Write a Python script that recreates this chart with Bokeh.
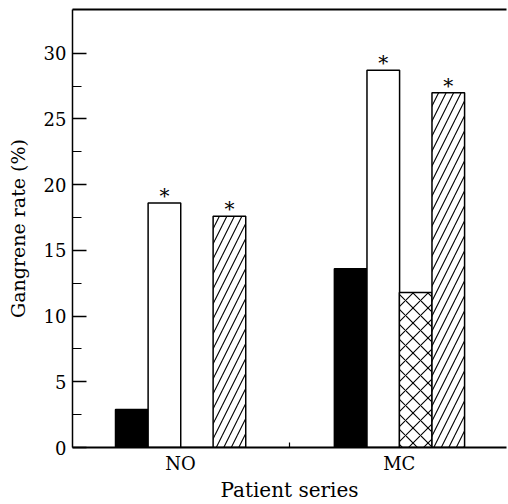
from bokeh.plotting import figure
from bokeh.models import ColumnDataSource, Range1d, FixedTicker, LinearAxis
from bokeh.transform import dodge
from bokeh.core.properties import value
from bokeh.embed import file_html
from bokeh.resources import INLINE

# ---- data ----
groups = ["NO", "MC"]
group_pos = [1, 2]
black_vals = [2.9, 13.6]
white_vals = [18.6, 28.7]
cross_vals = [0.0, 11.8]
diag_vals = [17.6, 27.0]
white_sig = [True, True]
diag_sig = [True, True]
y_ticks = [0, 5, 10, 15, 20, 25, 30]
y_minor = [2.5, 7.5, 12.5, 17.5, 22.5, 27.5]
x_label = "Patient series"
y_label = "Gangrene rate (%)"

FONT = "DejaVu Serif"
W, H = 508, 504

src = ColumnDataSource(dict(x=group_pos, black=black_vals, white=white_vals,
                            cross=cross_vals, diag=diag_vals))

p = figure(width=W, height=H, output_backend="svg", toolbar_location=None,
           x_range=Range1d(0.507, 2.49), y_range=Range1d(0, 33.33),
           min_border_left=72, min_border_right=2, min_border_top=9,
           min_border_bottom=57, x_axis_location="below")
p.outline_line_color = None
p.grid.visible = False
p.background_fill_color = "white"
p.border_fill_color = "white"

bw = 0.149
common = dict(width=bw, bottom=0, line_color="black", line_width=1.5, source=src)
p.vbar(x=dodge("x", -0.222, range=p.x_range), top="black", fill_color="black", **common)
p.vbar(x=dodge("x", -0.073, range=p.x_range), top="white", fill_color="white", **common)
p.vbar(x=dodge("x", 0.075, range=p.x_range), top="cross", fill_color="white",
       hatch_pattern="x", hatch_color="black", hatch_scale=15, hatch_weight=1.1, **common)
p.vbar(x=dodge("x", 0.224, range=p.x_range), top="diag", fill_color="white",
       hatch_pattern="/", hatch_color="black", hatch_scale=15, hatch_weight=1.1, **common)

# asterisks
ax, ay = [], []
for g, v, s in zip(group_pos, white_vals, white_sig):
    if s:
        ax.append(g - 0.073); ay.append(v)
for g, v, s in zip(group_pos, diag_vals, diag_sig):
    if s:
        ax.append(g + 0.224); ay.append(v)
p.text(x=ax, y=ay, text=["*"] * len(ax), text_align="center", text_baseline="bottom",
       y_offset=5, text_font=value(FONT), text_font_size="20px", text_color="black")

# axes
xa = p.xaxis[0]
xa.ticker = FixedTicker(ticks=group_pos, minor_ticks=[1.5])
xa.major_label_overrides = {gp: g for gp, g in zip(group_pos, groups)}
xa.major_tick_in = 0
xa.major_tick_out = 0
xa.minor_tick_in = 5
xa.minor_tick_out = 0
xa.major_label_standoff = 5
xa.axis_line_width = 1.8
xa.axis_label = x_label
xa.axis_label_standoff = 1

ya = p.yaxis[0]
ya.ticker = FixedTicker(ticks=y_ticks, minor_ticks=y_minor)
ya.major_tick_in = 14
ya.major_tick_out = 0
ya.minor_tick_in = 9
ya.minor_tick_out = 0
ya.major_label_standoff = 6
ya.axis_line_width = 1.5
ya.axis_label = y_label
ya.axis_label_standoff = 12

for a in (xa, ya):
    a.axis_line_color = "black"
    a.major_tick_line_color = "black"
    a.minor_tick_line_color = "black"
    a.major_tick_line_width = 1.5
    a.minor_tick_line_width = 1.2
    a.major_label_text_font = FONT
    a.major_label_text_font_size = "18px"
    a.major_label_text_color = "black"
    a.axis_label_text_font = FONT
    a.axis_label_text_font_style = "normal"
    a.axis_label_text_color = "black"
xa.axis_label_text_font_size = "20px"
ya.axis_label_text_font_size = "19px"

top_axis = LinearAxis(ticker=FixedTicker(ticks=[]), major_label_text_font_size="0px",
                      major_tick_line_color=None, minor_tick_line_color=None,
                      axis_line_color="black", axis_line_width=2)
p.add_layout(top_axis, "above")

open("out.html", "w").write(file_html(p, INLINE))
